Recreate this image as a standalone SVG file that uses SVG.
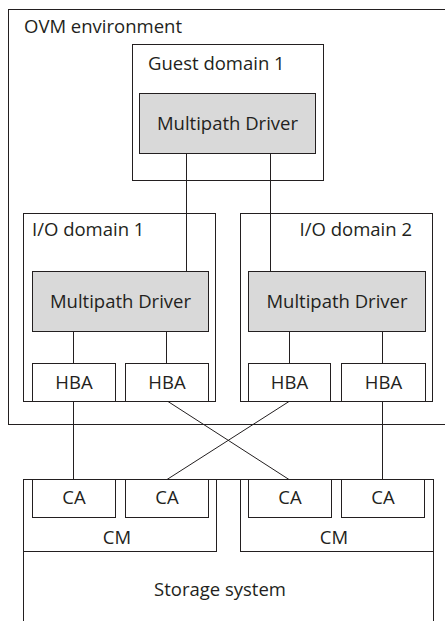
<svg xmlns="http://www.w3.org/2000/svg" width="445" height="621" viewBox="0 0 445 621">
<style>
.b{fill:#fff;stroke:#231f20;stroke-width:1}
.g{fill:#d9d9d9;stroke:#231f20;stroke-width:1}
.t{font-family:"Open Sans","Noto Sans",sans-serif;font-size:18.5px;fill:#231f20}
.c{text-anchor:middle}
.l{stroke:#231f20;stroke-width:1;fill:none}
</style>
<rect width="445" height="621" fill="#fff"/>
<g id="ovm">
<rect class="b" x="8.5" y="9.5" width="450" height="415"/>
<text class="t" x="24" y="33">OVM environment</text>
</g>
<g id="guest">
<rect class="b" x="132.5" y="44.5" width="191" height="136"/>
<text class="t" x="148" y="70">Guest domain 1</text>
</g>
<g id="mpd-guest">
<rect class="g" x="139.5" y="93.5" width="176" height="60"/>
<text class="t c" x="227.5" y="130">Multipath Driver</text>
</g>
<g id="io1">
<rect class="b" x="23.5" y="213.5" width="192" height="188"/>
<text class="t" x="32" y="236">I/O domain 1</text>
</g>
<g id="io2">
<rect class="b" x="240.5" y="213.5" width="192" height="188"/>
<text class="t" x="412" y="236" text-anchor="end">I/O domain 2</text>
</g>
<g id="mpd1">
<rect class="g" x="32.5" y="271.5" width="176" height="60"/>
<text class="t c" x="120.5" y="308">Multipath Driver</text>
</g>
<g id="mpd2">
<rect class="g" x="248.5" y="271.5" width="177" height="60"/>
<text class="t c" x="337" y="308">Multipath Driver</text>
</g>
<g id="hba1"><rect class="b" x="32.5" y="363.5" width="83" height="38"/><text class="t c" x="74" y="389">HBA</text></g>
<g id="hba2"><rect class="b" x="125.5" y="363.5" width="83" height="38"/><text class="t c" x="167" y="389">HBA</text></g>
<g id="hba3"><rect class="b" x="248.5" y="363.5" width="82" height="38"/><text class="t c" x="289.5" y="389">HBA</text></g>
<g id="hba4"><rect class="b" x="341.5" y="363.5" width="84" height="38"/><text class="t c" x="383.5" y="389">HBA</text></g>
<g id="storage">
<rect class="b" x="23.5" y="479.5" width="410" height="160"/>
<text class="t c" x="220" y="596">Storage system</text>
</g>
<g id="cm1">
<rect class="b" x="23.5" y="479.5" width="193" height="72"/>
<text class="t c" x="117" y="544">CM</text>
</g>
<g id="cm2">
<rect class="b" x="240.5" y="479.5" width="193" height="72"/>
<text class="t c" x="334" y="544">CM</text>
</g>
<g id="ca1"><rect class="b" x="32.5" y="479.5" width="83" height="38"/><text class="t c" x="74" y="504">CA</text></g>
<g id="ca2"><rect class="b" x="125.5" y="479.5" width="83" height="38"/><text class="t c" x="167" y="504">CA</text></g>
<g id="ca3"><rect class="b" x="248.5" y="479.5" width="83" height="38"/><text class="t c" x="290" y="504">CA</text></g>
<g id="ca4"><rect class="b" x="341.5" y="479.5" width="83" height="38"/><text class="t c" x="383" y="504">CA</text></g>
<g id="connectors">
<line class="l" x1="186.5" y1="153.5" x2="186.5" y2="271.5"/>
<line class="l" x1="270.5" y1="153.5" x2="270.5" y2="271.5"/>
<line class="l" x1="73.5" y1="331.5" x2="73.5" y2="363.5"/>
<line class="l" x1="166.5" y1="331.5" x2="166.5" y2="363.5"/>
<line class="l" x1="289.5" y1="331.5" x2="289.5" y2="363.5"/>
<line class="l" x1="382.5" y1="331.5" x2="382.5" y2="363.5"/>
<line class="l" x1="73.5" y1="401.5" x2="73.5" y2="479.5"/>
<line class="l" x1="168" y1="401.5" x2="289" y2="479.5"/>
<line class="l" x1="289" y1="401.5" x2="167" y2="479.5"/>
<line class="l" x1="382.5" y1="401.5" x2="382.5" y2="479.5"/>
</g>
</svg>
